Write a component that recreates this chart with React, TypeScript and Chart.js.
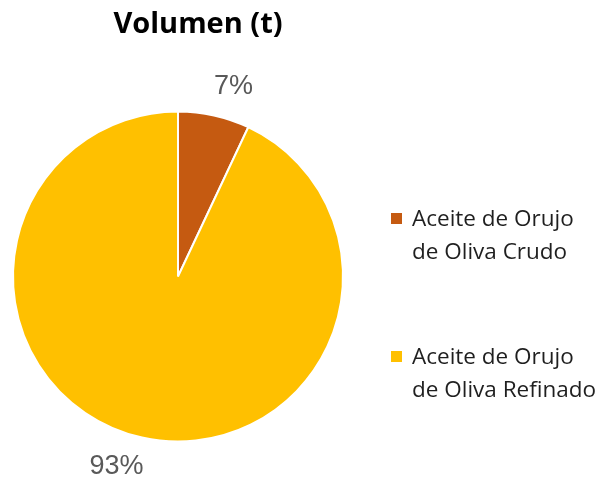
import React, { useEffect, useRef } from "react";
import { Chart, registerables } from "chart.js";

Chart.register(...registerables);

const titleText = "Volumen (t)";
const categories: string[][] = [
  ["Aceite de Orujo", "de Oliva Crudo"],
  ["Aceite de Orujo", "de Oliva Refinado"],
];
const values: number[] = [7, 93];
const colors: string[] = ["#C55A11", "#FFC000"];

const overlayPlugin = {
  id: "overlay",
  afterDatasetsDraw(chart: any) {
    const ctx = chart.ctx as CanvasRenderingContext2D;
    const meta = chart.getDatasetMeta(0);
    const data = chart.data.datasets[0].data as number[];
    const total = data.reduce((a, b) => a + b, 0);
    ctx.save();
    // percentage labels
    ctx.font = "27px 'Liberation Sans', Arial, sans-serif";
    ctx.fillStyle = "#595959";
    ctx.textAlign = "center";
    ctx.textBaseline = "middle";
    meta.data.forEach((arc: any, i: number) => {
      const { x, y, startAngle, endAngle, outerRadius } = arc.getProps(
        ["x", "y", "startAngle", "endAngle", "outerRadius"],
        true
      );
      const mid = (startAngle + endAngle) / 2;
      const r = outerRadius + 18;
      const ax = x + Math.cos(mid) * r;
      const ay = y + Math.sin(mid) * r;
      const txt = Math.round((data[i] / total) * 100) + "%";
      const w = ctx.measureText(txt).width;
      const h = 22;
      const cx = ax + Math.sign(Math.cos(mid)) * (w / 2) * 0.8;
      const cy = ay + Math.sign(Math.sin(mid)) * (h / 2);
      ctx.fillText(txt, cx, cy);
    });
    // title
    ctx.font = "bold 29px 'Open Sans', sans-serif";
    ctx.fillStyle = "#000000";
    ctx.textAlign = "center";
    ctx.textBaseline = "alphabetic";
    ctx.fillText(titleText, 198, 33);
    // legend
    ctx.textAlign = "left";
    ctx.font = "22.5px 'Open Sans', sans-serif";
    const legendX = 391;
    const firstBaseline = 226;
    const itemGap = 138;
    const lineGap = 33;
    categories.forEach((lines, i) => {
      const base = firstBaseline + i * itemGap;
      ctx.fillStyle = colors[i];
      ctx.fillRect(legendX, base - 13, 11, 11);
      ctx.fillStyle = "#1f1f1f";
      lines.forEach((ln, j) => {
        ctx.fillText(ln, legendX + 21, base + j * lineGap);
      });
    });
    ctx.restore();
  },
};

export default function App() {
  const ref = useRef<HTMLCanvasElement>(null);
  useEffect(() => {
    document.body.style.margin = "0";
    const chart = new Chart(ref.current!, {
      type: "pie",
      data: {
        labels: categories.map((c) => c.join(" ")),
        datasets: [
          {
            data: values,
            backgroundColor: colors,
            borderColor: "#ffffff",
            borderWidth: 2,
          },
        ],
      },
      options: {
        responsive: false,
        animation: false,
        layout: { padding: { left: 12, top: 110, right: 271, bottom: 48 } },
        plugins: {
          legend: { display: false },
          title: { display: false },
          tooltip: { enabled: false },
        },
      },
      plugins: [overlayPlugin],
    });
    return () => chart.destroy();
  }, []);
  return (
    <div style={{ width: 615, height: 491, background: "#ffffff" }}>
      <canvas ref={ref} width={615} height={491} />
    </div>
  );
}
